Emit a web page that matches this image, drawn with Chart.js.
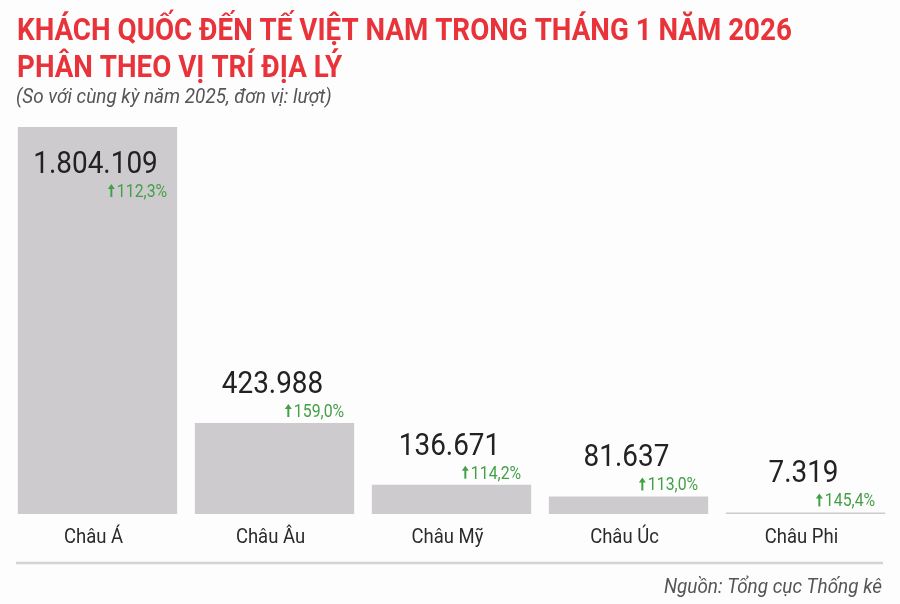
<!DOCTYPE html>
<html>
<head>
<meta charset="utf-8">
<script src="https://cdn.jsdelivr.net/npm/chart.js@4.4.1/dist/chart.umd.min.js"></script>
<style>
  html, body { margin: 0; padding: 0; background: #fdfdfd; }
  #wrap { position: relative; width: 900px; height: 604px; }
  canvas { display: block; }
</style>
</head>
<body>
<div id="wrap"><canvas id="c" width="900" height="604"></canvas></div>
<script>
const titleLines = ["KHÁCH QUỐC ĐẾN TẾ VIỆT NAM TRONG THÁNG 1 NĂM 2026", "PHÂN THEO VỊ TRÍ ĐỊA LÝ"];
const subtitle = "(So với cùng kỳ năm 2025, đơn vị: lượt)";
const source = "Nguồn: Tổng cục Thống kê";
const categories = ["Châu Á", "Châu Âu", "Châu Mỹ", "Châu Úc", "Châu Phi"];
const visitors = [1804109, 423988, 136671, 81637, 7319];
const valueLabels = ["1.804.109", "423.988", "136.671", "81.637", "7.319"];
const growthLabels = ["112,3%", "159,0%", "114,2%", "113,0%", "145,4%"];

const SX = 0.88; // condensed look
function condText(ctx, text, x, y, font, color, align, sx) {
  const s = sx || SX;
  ctx.save();
  ctx.font = font;
  ctx.fillStyle = color;
  ctx.textBaseline = 'alphabetic';
  const w = ctx.measureText(text).width * s;
  let left = x;
  if (align === 'center') left = x - w / 2;
  else if (align === 'right') left = x - w;
  ctx.translate(left, y);
  ctx.scale(s, 1);
  ctx.textAlign = 'left';
  ctx.fillText(text, 0, 0);
  ctx.restore();
  return w;
}
function growthText(ctx, text, right, y) {
  const font = '18px Roboto';
  ctx.save();
  ctx.font = font;
  const tw = ctx.measureText(text).width * SX;
  const aw = 9;
  const textLeft = right - tw;
  condText(ctx, text, right, y, font, '#43a047', 'right');
  const ax = textLeft - aw / 2 - 1;
  ctx.strokeStyle = '#43a047';
  ctx.fillStyle = '#43a047';
  ctx.lineWidth = 2;
  ctx.beginPath();
  ctx.moveTo(ax, y);
  ctx.lineTo(ax, y - 9);
  ctx.stroke();
  ctx.beginPath();
  ctx.moveTo(ax - 3.5, y - 8);
  ctx.lineTo(ax + 3.5, y - 8);
  ctx.lineTo(ax, y - 13);
  ctx.closePath();
  ctx.fill();
  ctx.restore();
}

const decor = {
  id: 'decor',
  afterDraw(chart) {
    const ctx = chart.ctx;
    const area = chart.chartArea;
    condText(ctx, titleLines[0], 17, 40, 'bold 31px Roboto', '#e8333b', 'left', 0.895);
    condText(ctx, titleLines[1], 17, 77, 'bold 31px Roboto', '#e8333b', 'left', 0.895);
    condText(ctx, subtitle, 16, 103, 'italic 21px Roboto', '#555555', 'left', 0.9);
    ctx.save();
    ctx.strokeStyle = '#d3d3d3';
    ctx.lineWidth = 2.5;
    ctx.beginPath();
    ctx.moveTo(16, 563);
    ctx.lineTo(883, 563);
    ctx.stroke();
    ctx.restore();
    condText(ctx, source, 882, 593, 'italic 21px Roboto', '#555555', 'right', 0.9);

    const meta = chart.getDatasetMeta(0);
    meta.data.forEach((bar, i) => {
      const props = bar.getProps(['x', 'y', 'base', 'width'], true);
      const right = props.x + props.width / 2;
      condText(ctx, categories[i], props.x - 4, 543, '21px Roboto', '#2b2b2b', 'center');
      let pctY, valY;
      if (props.y - 50 < area.top) {
        valY = props.y + 46;
        pctY = props.y + 70;
      } else {
        pctY = props.y - 6;
        valY = pctY - 24;
      }
      condText(ctx, valueLabels[i], props.x - 2, valY, '31px Roboto', '#222222', 'center', 0.9);
      growthText(ctx, growthLabels[i], right - 10, pctY);
    });
  }
};

new Chart(document.getElementById('c'), {
  type: 'bar',
  data: {
    labels: categories,
    datasets: [{
      data: visitors,
      backgroundColor: '#cdcbce',
      borderWidth: 0,
      barPercentage: 0.9,
      categoryPercentage: 1.0,
      minBarLength: 1
    }]
  },
  options: {
    responsive: false,
    animation: false,
    devicePixelRatio: 1,
    layout: { padding: { left: 9, right: 6, top: 127, bottom: 90 } },
    plugins: { legend: { display: false }, tooltip: { enabled: false }, title: { display: false } },
    scales: {
      x: { display: false },
      y: { display: false, min: 0, max: Math.max(...visitors) }
    }
  },
  plugins: [decor]
});
</script>
</body>
</html>
